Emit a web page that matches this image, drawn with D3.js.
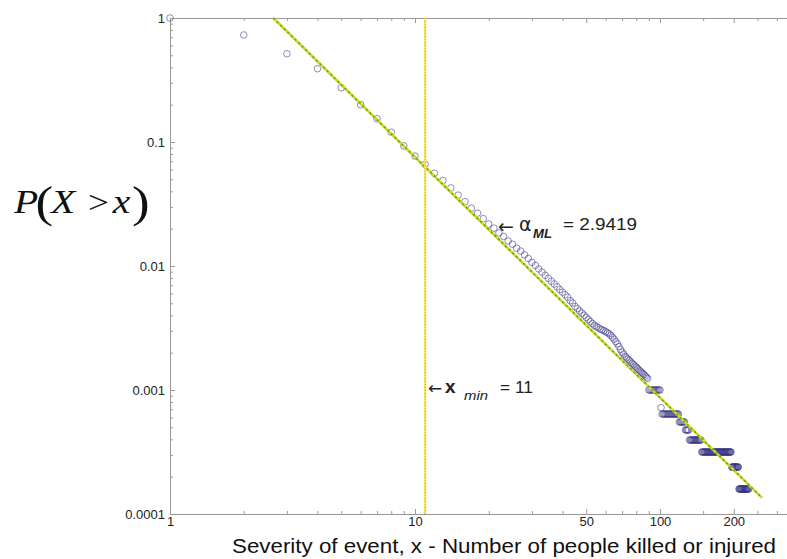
<!DOCTYPE html>
<html>
<head>
<meta charset="utf-8">
<script src="https://cdn.jsdelivr.net/npm/d3@7"></script>
<style>
  body { margin: 0; background: #fff; }
  svg { display: block; font-family: "Liberation Sans", Arial, sans-serif; }
  .axis path, .axis line { stroke: #9a9a9a; }
  .axis text { fill: #222; font-size: 13px; }
</style>
</head>
<body>
<svg id="chart" width="787" height="559"></svg>
<script>
// P(X > x) for x = 1, 2, 3 ... 89
const ccdfHead = [
  1, 0.73, 0.515, 0.39, 0.274, 0.20, 0.154, 0.12, 0.093, 0.077,
  0.066, 0.056, 0.049, 0.0426, 0.0373, 0.0330, 0.0293, 0.0267, 0.0241, 0.0218,
  0.0202, 0.0185, 0.0173, 0.0159, 0.0150, 0.0139, 0.0132, 0.0123, 0.0115, 0.0107,
  0.0101, 0.00947, 0.00893, 0.00842, 0.00796, 0.00754, 0.00716, 0.00680, 0.00646, 0.00615,
  0.00587, 0.00560, 0.00525, 0.00503, 0.00472, 0.00453, 0.00434, 0.00417, 0.00401, 0.00385,
  0.00370, 0.00356, 0.00343, 0.00332, 0.00324, 0.00318, 0.00310, 0.00306, 0.00301, 0.00295,
  0.00290, 0.00284, 0.00276, 0.00266, 0.00257, 0.00246, 0.00236, 0.00224, 0.00212, 0.00202,
  0.00195, 0.00187, 0.00182, 0.00177, 0.00173, 0.00168, 0.00164, 0.00160, 0.00156, 0.00153,
  0.00149, 0.00145, 0.00142, 0.00139, 0.00136, 0.00133, 0.00130, 0.00127, 0.00124
];

// the tail is flat runs: every integer x from start to end has the same P
const tailStart = [90, 101, 102, 120, 127, 132, 148, 196, 210];
const tailEnd   = [100, 101, 119, 126, 131, 147, 195, 209, 230];
const tailP     = [0.00100, 0.00072, 0.00064, 0.000552, 0.000476, 0.000395, 0.000316, 0.000239, 0.000159];

// fitted power law, end points of the drawn line
const fitX = [2.64, 261];
const fitP = [1, 0.000135];
const alphaML = "2.9419";
const xMin = 11;

const yTicks = [1, 0.1, 0.01, 0.001, 0.0001];
const yTickLabels = ["1", "0.1", "0.01", "0.001", "0.0001"];
const xTicks = [1, 10, 50, 100, 200];
const xMinorTicks = [2, 3, 4, 5, 6, 7, 8, 9, 20, 30, 40, 60, 70, 80, 90, 150, 250, 300];

// build point list
let points = ccdfHead.map((p, i) => ({x: i + 1, p: p}));
tailStart.forEach((s, i) => {
  d3.range(s, tailEnd[i] + 1).forEach(x => points.push({x: x, p: tailP[i]}));
});

const svg = d3.select("#chart");
const plotLeft = 170, plotTop = 18, plotBottom = 514;

const xScale = d3.scaleLog().domain([1, 330]).range([plotLeft, plotLeft + 245 * Math.log10(330)]);
const yScale = d3.scaleLog().domain([0.0001, 1]).range([plotBottom, plotTop]);

// minor y ticks 2..9 per decade
let yMinor = [];
[0.0001, 0.001, 0.01, 0.1].forEach(d => {
  for (let k = 2; k <= 9; k++) yMinor.push(d * k);
});

// axes
svg.append("g").attr("class", "axis")
  .attr("transform", `translate(${plotLeft},0)`)
  .call(d3.axisLeft(yScale).tickValues(yMinor).tickSize(-3).tickSizeOuter(0).tickFormat(""));
svg.append("g").attr("class", "axis")
  .attr("transform", `translate(${plotLeft},0)`)
  .call(d3.axisLeft(yScale).tickValues(yTicks).tickSize(-5).tickSizeOuter(0).tickPadding(5)
    .tickFormat((d, i) => yTickLabels[i]));

svg.append("g").attr("class", "axis")
  .attr("transform", `translate(0,${plotBottom})`)
  .call(d3.axisBottom(xScale).tickValues(xMinorTicks).tickSize(-3).tickSizeOuter(0).tickFormat(""));
svg.append("g").attr("class", "axis")
  .attr("transform", `translate(0,${plotBottom})`)
  .call(d3.axisBottom(xScale).tickValues(xTicks).tickSize(-5).tickSizeOuter(0).tickPadding(3)
    .tickFormat(d3.format("d")));

svg.append("g").attr("class", "axis")
  .attr("transform", `translate(0,${plotTop})`)
  .call(d3.axisTop(xScale).tickValues(xMinorTicks).tickSize(-3).tickSizeOuter(0).tickFormat(""));
svg.append("g").attr("class", "axis")
  .attr("transform", `translate(0,${plotTop})`)
  .call(d3.axisTop(xScale).tickValues(xTicks).tickSize(-5).tickSizeOuter(0).tickFormat(""));

svg.selectAll(".axis .domain").attr("stroke", "#9a9a9a");

// data circles
svg.append("g").selectAll("circle")
  .data(points)
  .enter()
  .append("circle")
  .attr("cx", d => xScale(d.x))
  .attr("cy", d => yScale(d.p))
  .attr("r", 3.3)
  .attr("fill", "none")
  .attr("stroke", "rgba(50,50,130,0.55)")
  .attr("stroke-width", 1);

// fit line
const fitLine = d3.line().x(d => xScale(d[0])).y(d => yScale(d[1]));
const fitData = fitX.map((x, i) => [x, fitP[i]]);
svg.append("path").datum(fitData)
  .attr("d", fitLine).attr("fill", "none")
  .attr("stroke", "#c6dc28").attr("stroke-width", 2.6);
svg.append("path").datum(fitData)
  .attr("d", fitLine).attr("fill", "none")
  .attr("stroke", "#7f9a12").attr("stroke-width", 1.6).attr("stroke-dasharray", "2,3");

// x_min line
svg.append("line")
  .attr("x1", xScale(xMin)).attr("x2", xScale(xMin))
  .attr("y1", plotTop).attr("y2", plotBottom)
  .attr("stroke", "#f7e65a").attr("stroke-width", 2.2);
svg.append("line")
  .attr("x1", xScale(xMin)).attr("x2", xScale(xMin))
  .attr("y1", plotTop).attr("y2", plotBottom)
  .attr("stroke", "#e2bd00").attr("stroke-width", 1.4).attr("stroke-dasharray", "1,2");

// alpha annotation
const note = svg.append("g").attr("fill", "#222");
note.append("text").attr("x", 498).attr("y", 233)
  .attr("font-family", "'DejaVu Sans', sans-serif").attr("font-size", 19).text("\u2190");
note.append("text").attr("x", 519).attr("y", 231)
  .attr("font-family", "'DejaVu Sans', sans-serif").attr("font-size", 19).text("\u03b1");
note.append("text").attr("x", 533).attr("y", 238)
  .attr("font-style", "italic").attr("font-weight", "bold").attr("font-size", 13)
  .attr("textLength", 19).attr("lengthAdjust", "spacingAndGlyphs").text("ML");
note.append("text").attr("x", 563).attr("y", 230)
  .attr("font-size", 17).attr("textLength", 74).attr("lengthAdjust", "spacingAndGlyphs")
  .text("= " + alphaML);

// x_min annotation
note.append("text").attr("x", 428).attr("y", 394)
  .attr("font-family", "'DejaVu Sans', sans-serif").attr("font-size", 17).text("\u2190");
note.append("text").attr("x", 445).attr("y", 393)
  .attr("font-weight", "bold").attr("font-size", 19).text("x");
note.append("text").attr("x", 464).attr("y", 400)
  .attr("font-style", "italic").attr("font-size", 13)
  .attr("textLength", 24).attr("lengthAdjust", "spacingAndGlyphs").text("min");
note.append("text").attr("x", 500).attr("y", 393)
  .attr("font-size", 16).attr("textLength", 33).attr("lengthAdjust", "spacingAndGlyphs")
  .text("= " + xMin);

// y title, stretched a little sideways like the original
const yTitle = svg.append("g")
  .attr("transform", "translate(0,213) scale(1.2,1)")
  .attr("font-family", "'Liberation Serif', 'Times New Roman', serif")
  .attr("fill", "#111");
const titleParts = [
  {t: "P", x: 11.7, size: 33, italic: true, dy: 0},
  {t: "(", x: 29.5, size: 44, italic: false, dy: 4},
  {t: "X", x: 42.5, size: 33, italic: true, dy: 0},
  {t: ">", x: 73.3, size: 31, italic: false, dy: 0},
  {t: "x", x: 94, size: 33, italic: true, dy: 0},
  {t: ")", x: 110, size: 44, italic: false, dy: 4}
];
yTitle.selectAll("text")
  .data(titleParts)
  .enter()
  .append("text")
  .attr("x", d => d.x)
  .attr("y", d => d.dy)
  .attr("font-size", d => d.size)
  .attr("font-style", d => d.italic ? "italic" : "normal")
  .text(d => d.t);

// x title
svg.append("text").attr("x", 232).attr("y", 553)
  .attr("font-size", 20).attr("fill", "#111")
  .attr("textLength", 544).attr("lengthAdjust", "spacingAndGlyphs")
  .text("Severity of event, x - Number of people killed or injured");
</script>
</body>
</html>
